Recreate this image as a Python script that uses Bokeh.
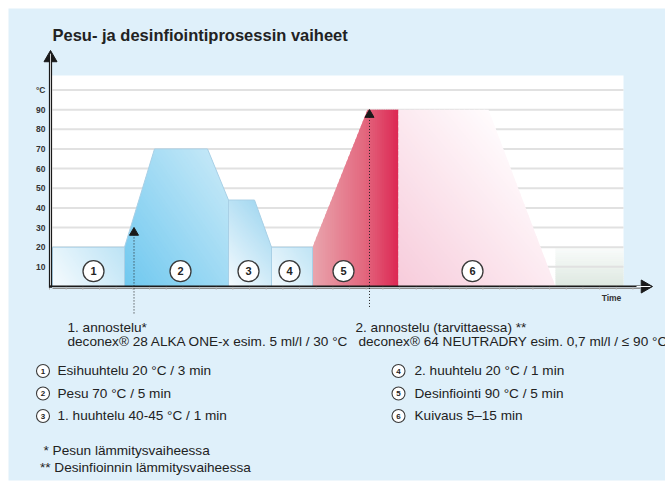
import math
import numpy as np
from bokeh.plotting import figure
from bokeh.models import Range1d
from bokeh.core.properties import value
from bokeh.embed import file_html
from bokeh.resources import INLINE

# ---------------- data ----------------
title = "Pesu- ja desinfiointiprosessin vaiheet"

temp_ticks = [10, 20, 30, 40, 50, 60, 70, 80, 90]
temp_tick_labels = ["10", "20", "30", "40", "50", "60", "70", "80", "90"]
unit_label = "°C"
unit_level = 100
time_label = "Time"

# temperature profile of each phase: time (relative units) and temperature (°C)
phase1_t = [0.2, 0.2, 7.4, 7.4]
phase1_T = [0, 20, 20, 0]
phase2_t = [7.4, 7.4, 10.4, 15.7, 17.8, 17.8]
phase2_T = [0, 20, 70, 70, 44, 0]
phase3_t = [17.8, 17.8, 20.4, 22.1, 22.1]
phase3_T = [0, 44, 44, 20, 0]
phase4_t = [22.1, 22.1, 26.2, 26.2]
phase4_T = [0, 20, 20, 0]
phase5_t = [26.2, 26.2, 31.7, 34.8, 34.8]
phase5_T = [0, 20, 90, 90, 0]
phase6_t = [34.8, 34.8, 43.8, 50.5]
phase6_T = [0, 90, 90, 0]
cool_t = [50.5, 50.5, 57.3, 57.3]
cool_T = [0, 20, 20, 0]

phase_numbers = ["1", "2", "3", "4", "5", "6"]
phase_mid_t = [4.3, 13.0, 19.8, 23.9, 29.3, 42.2]

# dosing points (time, temperature)
dose_t = [8.35, 31.9]
dose_T = [30, 90]
dose_line_bottom = [-13.7, -10.4]

dose_texts_1 = ["1. annostelu*", "deconex® 28 ALKA ONE-x esim. 5 ml/l / 30 °C"]
dose_texts_2 = ["2. annostelu (tarvittaessa) **", "deconex® 64 NEUTRADRY esim. 0,7 ml/l / ≤ 90 °C"]

legend_left = ["Esihuuhtelu 20 °C / 3 min", "Pesu 70 °C / 5 min", "1. huuhtelu 40-45 °C / 1 min"]
legend_right = ["2. huuhtelu 20 °C / 1 min", "Desinfiointi 90 °C / 5 min", "Kuivaus 5–15 min"]
footnotes = ["* Pesun lämmitysvaiheessa", "** Desinfioinnin lämmitysvaiheessa"]

# ---------------- figure ----------------
FW, FH = 657, 472          # blue panel (plot frame)
X0, X1 = -4.2, 61.5
Y0, Y1 = -98.73, 141.48
kx = FW / (X1 - X0)
ky = FH / (Y1 - Y0)

BG = "#dff0fa"
p = figure(width=FW + 8, height=FH + 8 + 3, x_range=Range1d(X0, X1), y_range=Range1d(Y0, Y1),
           output_backend="svg", toolbar_location=None,
           min_border_left=8, min_border_top=8, min_border_right=0, min_border_bottom=3,
           x_axis_location=None, y_axis_location=None,
           background_fill_color=BG, border_fill_color="white", outline_line_color=None)
p.grid.visible = False

FONT = value("Liberation Sans")


def hex2rgb(h):
    h = h.lstrip("#")
    return tuple(int(h[i:i + 2], 16) for i in (0, 2, 4))


def mix(stops, f):
    for i in range(len(stops) - 1):
        a, ca = stops[i]
        b, cb = stops[i + 1]
        if f <= b or i == len(stops) - 2:
            u = 0 if b == a else (f - a) / (b - a)
            u = min(max(u, 0), 1)
            A, B = hex2rgb(ca), hex2rgb(cb)
            return "#%02x%02x%02x" % tuple(int(round(A[k] + (B[k] - A[k]) * u)) for k in range(3))


def clip(poly, f):
    out = []
    n = len(poly)
    for i in range(n):
        P, Q = poly[i], poly[(i + 1) % n]
        fp, fq = f(P), f(Q)
        if fp >= 0:
            out.append(P)
        if (fp >= 0) != (fq >= 0):
            s = fp / (fp - fq)
            out.append((P[0] + s * (Q[0] - P[0]), P[1] + s * (Q[1] - P[1])))
    return out


def gradient_fill(ts, Ts, angle_deg, stops, n=48):
    pts = [(t * kx, T * ky) for t, T in zip(ts, Ts)]
    dx, dy = math.cos(math.radians(angle_deg)), math.sin(math.radians(angle_deg))
    proj = [x * dx + y * dy for x, y in pts]
    lo, hi = min(proj), max(proj)
    xs, ys, cols = [], [], []
    for i in range(n):
        a = lo + (hi - lo) * i / n
        b = lo + (hi - lo) * (i + 1) / n + (0.9 if i < n - 1 else 0)
        poly = clip(pts, lambda q: q[0] * dx + q[1] * dy - a)
        if len(poly) < 3:
            continue
        poly = clip(poly, lambda q: b - (q[0] * dx + q[1] * dy))
        if len(poly) < 3:
            continue
        xs.append([q[0] / kx for q in poly])
        ys.append([q[1] / ky for q in poly])
        cols.append(mix(stops, (i + 0.5) / n))
    p.patches(xs, ys, fill_color=cols, line_color=None)


# plot area
p.quad(left=0, right=cool_t[-1], bottom=0, top=107.4, fill_color="white", line_color=None)

# cooling tail
gradient_fill(cool_t, cool_T, 90, [(0, "#dde8e0"), (1, "#fafcfb")], n=20)

# grid lines
grid_levels = temp_ticks + [unit_level]
p.segment(x0=[0.2] * len(grid_levels), y0=grid_levels, x1=[cool_t[-1]] * len(grid_levels), y1=grid_levels,
          line_color="#e1e1e1", line_width=2)

# phases
gradient_fill(phase1_t, phase1_T, 35, [(0, "#f6fbfe"), (1, "#bce3f5")])
gradient_fill(phase2_t, phase2_T, 35, [(0, "#6fc8ef"), (1, "#c2e7f7")])
gradient_fill(phase3_t, phase3_T, 40, [(0, "#f6fbfe"), (1, "#a6d9f1")])
gradient_fill(phase4_t, phase4_T, 35, [(0, "#f2f9fd"), (1, "#bfe4f5")])
gradient_fill(phase5_t, phase5_T, 0, [(0, "#e9a5ad"), (0.6, "#e3687f"), (1, "#dc2753")])
gradient_fill(phase6_t, phase6_T, 40, [(0, "#f7cbdb"), (1, "#fffcfd")])
for ts, Ts in [(phase1_t, phase1_T), (phase2_t, phase2_T), (phase3_t, phase3_T), (phase4_t, phase4_T)]:
    p.patch(ts, Ts, fill_color=None, line_color="#a9d0e6", line_width=1)

# x axis
p.segment(x0=0.2, y0=-0.9, x1=59.0, y1=-0.9, line_color="#8f8f8f", line_width=1.6)
p.segment(x0=-0.1, y0=0.1, x1=59.0, y1=0.1, line_color="#1a1a1a", line_width=1.6)
tick_x = np.arange(-0.1, 59.0, 1.667)
p.segment(x0=tick_x, y0=[-0.2] * len(tick_x), x1=tick_x, y1=[-1.6] * len(tick_x),
          line_color="#b5b5b5", line_width=1)
p.scatter(x=[59.45], y=[0], marker="triangle", size=13, angle=-math.pi / 2,
          fill_color="#1a1a1a", line_color="#1a1a1a")
p.segment(x0=58.6, y0=0, x1=60.0, y1=0, line_color="white", line_width=1)

# y axis
p.segment(x0=0, y0=-0.6, x1=0, y1=116, line_color="#1a1a1a", line_width=3.2)
p.segment(x0=0, y0=0.6, x1=0, y1=116, line_color="white", line_width=0.8)
p.scatter(x=[0], y=[116.3], marker="triangle", size=13, fill_color="#1a1a1a", line_color="#1a1a1a")
p.segment(x0=0, y0=114, x1=0, y1=118.5, line_color="white", line_width=0.8)

# tick labels
p.text(x=[-0.5] * len(temp_ticks), y=temp_ticks, text=temp_tick_labels, text_align="right",
       text_baseline="middle", text_font=FONT, text_font_size="8.5px", text_font_style="bold",
       text_color="#333333")
p.text(x=[-0.5], y=[unit_level], text=[unit_label], text_align="right", text_baseline="middle",
       text_font=FONT, text_font_size="8.5px", text_font_style="bold", text_color="#333333")
p.text(x=[56.1], y=[-5.8], text=[time_label], text_align="center", text_baseline="middle",
       text_font=FONT, text_font_size="8.5px", text_font_style="bold", text_color="#333333")

# phase number markers
p.scatter(x=phase_mid_t, y=[7.8] * 6, marker="circle", size=21, fill_color="white",
          line_color="#3a3a3a", line_width=1.3)
p.text(x=phase_mid_t, y=[7.7] * 6, text=phase_numbers, text_align="center", text_baseline="middle",
       text_font=FONT, text_font_size="11px", text_font_style="bold", text_color="#222222")

# dosing arrows
for t, T, b in zip(dose_t, dose_T, dose_line_bottom):
    p.segment(x0=t, y0=b, x1=t, y1=T - 2, line_color="#222222", line_width=1, line_dash="1 2")
    p.scatter(x=[t], y=[T - 2.6], marker="triangle", size=9, fill_color="#1a1a1a", line_color="#1a1a1a")

# title
p.text(x=[0.2], y=[128.2], text=[title], text_align="left", text_baseline="middle",
       text_font=FONT, text_font_size="16.5px", text_font_style="bold", text_color="#222222")

TXT = dict(text_align="left", text_baseline="middle", text_font=FONT, text_font_size="13.6px",
           text_color="#222222")
# dosing texts
p.text(x=[1.7, 1.7], y=[-20.8, -28.2], text=dose_texts_1, **TXT)
p.text(x=[30.5, 30.8], y=[-20.8, -28.2], text=dose_texts_2, **TXT)

# legend
rows = [-43.0, -54.45, -65.9]
p.scatter(x=[-0.75] * 3, y=rows, marker="circle", size=13, fill_color="white",
          line_color="#3a3a3a", line_width=1.1)
p.text(x=[-0.75] * 3, y=[r - 0.1 for r in rows], text=phase_numbers[:3], text_align="center",
       text_baseline="middle", text_font=FONT, text_font_size="8px", text_font_style="bold",
       text_color="#222222")
p.text(x=[0.7] * 3, y=rows, text=legend_left, **TXT)
p.scatter(x=[34.8] * 3, y=rows, marker="circle", size=13, fill_color="white",
          line_color="#3a3a3a", line_width=1.1)
p.text(x=[34.8] * 3, y=[r - 0.1 for r in rows], text=phase_numbers[3:], text_align="center",
       text_baseline="middle", text_font=FONT, text_font_size="8px", text_font_style="bold",
       text_color="#222222")
p.text(x=[36.4] * 3, y=rows, text=legend_right, **TXT)

# footnotes
p.text(x=[-0.7, -1.05], y=[-83.5, -92.1], text=footnotes, **TXT)

open("out.html", "w").write(file_html(p, INLINE))
